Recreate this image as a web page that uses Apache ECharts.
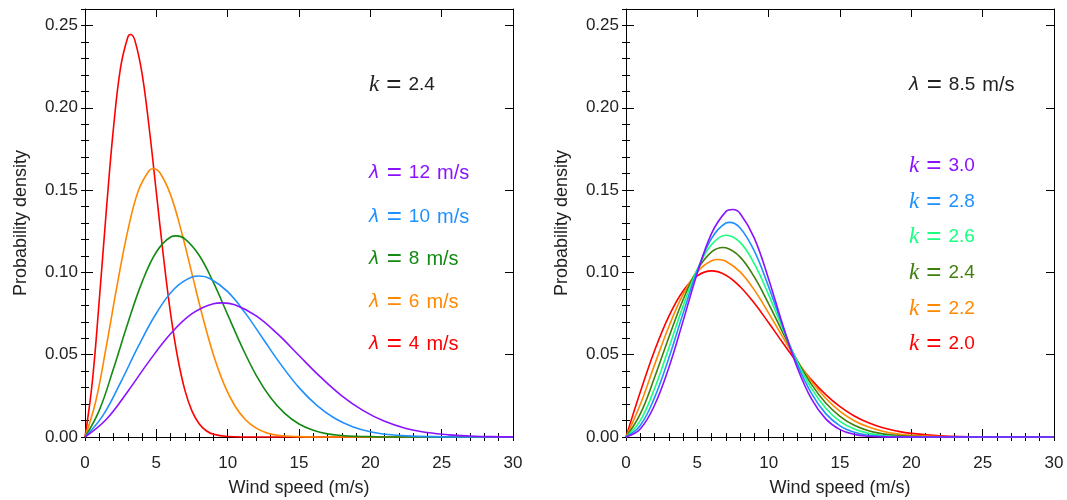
<!DOCTYPE html>
<html><head><meta charset="utf-8">
<script src="https://cdn.jsdelivr.net/npm/echarts@6/dist/echarts.min.js"></script>
<style>html,body{margin:0;padding:0;background:#fff}#c{width:1067px;height:500px}</style>
</head><body><div id="c"></div>
<script>
// ---------- data (wind speed m/s, probability density) ----------
// Left panel: k = 2.4, different scale parameters
const lambda4 = [[0,0],[0.5,0.0324],[1,0.0831],[1.5,0.1382],[2,0.1881],[2.5,0.2248],[3,0.2429],[3.2,0.2445],[3.5,0.2408],[4,0.2207],[4.5,0.1877],[5,0.1486],[5.5,0.1095],[6,0.0750],[6.5,0.0480],[7,0.0285],[7.5,0.0157],[8,0.0081],[8.5,0.0038],[9,0.0017],[10,0.0003],[11,0],[30,0]];
const lambda6 = [[0,0],[0.75,0.0216],[1.5,0.0554],[2.25,0.0921],[3,0.1254],[3.75,0.1499],[4.5,0.1619],[4.8,0.1630],[5.25,0.1605],[6,0.1471],[6.75,0.1251],[7.5,0.0991],[8.25,0.0730],[9,0.0500],[9.75,0.0320],[10.5,0.0190],[11.25,0.0105],[12,0.0054],[12.75,0.0025],[13.5,0.0011],[15,0.0002],[16,0],[30,0]];
const lambda8 = [[0,0],[1,0.0162],[2,0.0416],[3,0.0691],[4,0.0941],[5,0.1124],[6,0.1215],[6.4,0.1222],[7,0.1204],[8,0.1104],[9,0.0939],[10,0.0743],[11,0.0548],[12,0.0375],[13,0.0240],[14,0.0143],[15,0.0079],[16,0.0041],[17,0.0019],[18,0.0009],[19,0.0004],[20,0.0002],[21,0],[30,0]];
const lambda10 = [[0,0],[1.25,0.0130],[2.5,0.0332],[3.75,0.0553],[5,0.0752],[6.25,0.0899],[7.5,0.0972],[8,0.0978],[8.75,0.0963],[10,0.0883],[11.25,0.0751],[12.5,0.0594],[13.75,0.0438],[15,0.0300],[16.25,0.0192],[17.5,0.0114],[18.75,0.0063],[20,0.0032],[21.25,0.0015],[22.5,0.0007],[25,0.0001],[26,0],[30,0]];
const lambda12 = [[0,0],[1.5,0.0108],[3,0.0277],[4.5,0.0461],[6,0.0627],[7.5,0.0749],[9,0.0810],[9.6,0.0815],[10.5,0.0803],[12,0.0736],[13.5,0.0626],[15,0.0495],[16.5,0.0365],[18,0.0250],[19.5,0.0160],[21,0.0095],[22.5,0.0052],[24,0.0027],[25.5,0.0013],[27,0.0006],[28.5,0.0002],[30,0.0001]];

// Right panel: lambda = 8.5 m/s, different shape parameters
const k20 = [[0,0],[1,0.0273],[2,0.0524],[3,0.0733],[4,0.0887],[5,0.0979],[6,0.1009],[7,0.0983],[8,0.0913],[9,0.0812],[10,0.0694],[11,0.0571],[12,0.0453],[13,0.0347],[14,0.0257],[15,0.0184],[16,0.0128],[17,0.0086],[18,0.0056],[19,0.0036],[20,0.0022],[22,0.00075],[25,0.00012],[30,0]];
const k22 = [[0,0],[1,0.0197],[2,0.0438],[3,0.0670],[4,0.0866],[5,0.1003],[6,0.1071],[6.5,0.1078],[7,0.1068],[8,0.1003],[9,0.0892],[10,0.0753],[11,0.0605],[12,0.0463],[13,0.0338],[14,0.0235],[15,0.0156],[16,0.0099],[17,0.0060],[18,0.0035],[19,0.0019],[20,0.0010],[22,0.00025],[25,0.00002],[30,0]];
const k24 = [[0,0],[1,0.0140],[2,0.0361],[3,0.0605],[4,0.0834],[5,0.1015],[6,0.1124],[6.8,0.1151],[7,0.1149],[8,0.1093],[9,0.0971],[10,0.0809],[11,0.0633],[12,0.0464],[13,0.0320],[14,0.0207],[15,0.0126],[16,0.0071],[17,0.0038],[18,0.0019],[19,0.0009],[20,0.0004],[22,0.00005],[25,0],[30,0]];
const k26 = [[0,0],[1,0.0099],[2,0.0295],[3,0.0541],[4,0.0795],[5,0.1018],[6,0.1169],[7,0.1226],[8,0.1182],[9,0.1051],[10,0.0863],[11,0.0654],[12,0.0458],[13,0.0295],[14,0.0175],[15,0.0095],[16,0.0048],[17,0.0022],[18,0.0009],[19,0.0003],[20,0.0001],[22,0],[30,0]];
const k28 = [[0,0],[1,0.0070],[2,0.0239],[3,0.0479],[4,0.0751],[5,0.1011],[6,0.1207],[7,0.1300],[7.25,0.1304],[8,0.1270],[9,0.1129],[10,0.0912],[11,0.0669],[12,0.0443],[13,0.0265],[14,0.0142],[15,0.0068],[16,0.0029],[17,0.0011],[18,0.0004],[19,0.0001],[20,0],[30,0]];
const k30 = [[0,0],[1,0.0049],[2,0.0193],[3,0.0421],[4,0.0704],[5,0.0996],[6,0.1237],[7,0.1369],[7.5,0.1382],[8,0.1358],[9,0.1207],[10,0.0959],[11,0.0677],[12,0.0422],[13,0.0231],[14,0.0110],[15,0.0045],[16,0.0016],[17,0.0005],[18,0.0001],[19,0],[30,0]];

// labels
const leftNames = ['λ = 4 m/s','λ = 6 m/s','λ = 8 m/s','λ = 10 m/s','λ = 12 m/s'];
const rightNames = ['k = 2.0','k = 2.2','k = 2.4','k = 2.6','k = 2.8','k = 3.0'];
const leftTitle = 'k = 2.4';
const rightTitle = 'λ = 8.5 m/s';
const xName = 'Wind speed (m/s)';
const yName = 'Probability density';
const xRange = [0, 30];
const yRange = [0, 0.26];

// ---------- styling ----------
const FONT = "'Liberation Sans', Arial, Helvetica, sans-serif";
const TXT = '#222';
const leftColors = ['#ff0000','#ff8800','#138a13','#1e90ff','#8a12ff'];
const rightColors = ['#ff0000','#ff8800','#3f7f0c','#1aff80','#1e90ff','#8a12ff'];
const leftData = [lambda4, lambda6, lambda8, lambda10, lambda12];
const rightData = [k20, k22, k24, k26, k28, k30];

const grids = [
  {left: 85, top: 9, width: 428, height: 428, containLabel: false, outerBoundsMode: 'none'},
  {left: 626, top: 9, width: 428, height: 428, containLabel: false, outerBoundsMode: 'none'}
];

const tickStyle = {color: '#000', width: 1};
function xAxes(g) {
  const base = {gridIndex: g, type: 'value', min: xRange[0], max: xRange[1], splitLine: {show: false}};
  return [
    Object.assign({}, base, {position: 'bottom', interval: 5,
      axisLine: {show: true, onZero: false, lineStyle: tickStyle},
      axisTick: {show: true, inside: true, length: 8, lineStyle: tickStyle},
      axisLabel: {show: true, margin: 18, fontSize: 17, color: TXT, fontFamily: FONT},
      name: xName, nameLocation: 'middle', nameGap: 42,
      nameTextStyle: {fontSize: 18, color: TXT, fontFamily: FONT}}),
    Object.assign({}, base, {position: 'bottom', interval: 1,
      axisLine: {show: false}, axisLabel: {show: false},
      axisTick: {show: true, inside: true, length: 4, lineStyle: tickStyle}}),
    Object.assign({}, base, {position: 'top', interval: 5,
      axisLine: {show: true, onZero: false, lineStyle: tickStyle},
      axisTick: {show: true, inside: true, length: 8, lineStyle: tickStyle},
      axisLabel: {show: false}}),
    Object.assign({}, base, {position: 'top', interval: 1,
      axisLine: {show: false}, axisLabel: {show: false},
      axisTick: {show: true, inside: true, length: 4, lineStyle: tickStyle}})
  ];
}
function yAxes(g) {
  const base = {gridIndex: g, type: 'value', min: yRange[0], max: yRange[1], splitLine: {show: false}};
  return [
    Object.assign({}, base, {position: 'left', interval: 0.05,
      axisLine: {show: true, onZero: false, lineStyle: tickStyle},
      axisTick: {show: true, inside: true, length: 8, lineStyle: tickStyle},
      axisLabel: {show: true, margin: 7, fontSize: 17, color: TXT, fontFamily: FONT, showMaxLabel: false,
        formatter: v => v.toFixed(2)},
      name: yName, nameLocation: 'middle', nameGap: 55,
      nameTextStyle: {fontSize: 18, color: TXT, fontFamily: FONT}}),
    Object.assign({}, base, {position: 'left', interval: 0.01,
      axisLine: {show: false}, axisLabel: {show: false},
      axisTick: {show: true, inside: true, length: 4, lineStyle: tickStyle}}),
    Object.assign({}, base, {position: 'right', interval: 0.05,
      axisLine: {show: true, onZero: false, lineStyle: tickStyle},
      axisTick: {show: true, inside: true, length: 8, lineStyle: tickStyle},
      axisLabel: {show: false}}),
    Object.assign({}, base, {position: 'right', interval: 0.01,
      axisLine: {show: false}, axisLabel: {show: false},
      axisTick: {show: true, inside: true, length: 4, lineStyle: tickStyle}})
  ];
}

const series = [];
leftData.forEach((d, i) => series.push({
  name: leftNames[i], type: 'line', xAxisIndex: 0, yAxisIndex: 0, data: d,
  showSymbol: false, smooth: 0.4, clip: false, z: 3 + i,
  lineStyle: {color: leftColors[i], width: 1.6}
}));
rightData.forEach((d, i) => series.push({
  name: rightNames[i], type: 'line', xAxisIndex: 4, yAxisIndex: 4, data: d,
  showSymbol: false, smooth: 0.4, clip: false, z: 3 + i,
  lineStyle: {color: rightColors[i], width: 1.6}
}));

// rich-text helpers: italic math symbol, wide "=", value, unit
function mathLabel(str) {
  const parts = str.split(' ');        // [sym, '=', value, unit?]
  const sym = parts[0];
  let out = '{' + (sym === 'k' ? 'k' : 'l') + '|' + sym + '}{s| }{eq|=}{s| }{v|' + parts[2] + '}';
  if (parts[3]) out += '{s| }{u|' + parts[3] + '}';
  return out;
}
function textEl(str, x, y, color) {
  const rich = {
    k: {fill: color, fontFamily: "'Liberation Serif', 'Times New Roman', serif", fontStyle: 'italic', fontSize: 23},
    l: {fill: color, fontFamily: "'DejaVu Sans', 'Liberation Sans', sans-serif", fontStyle: 'italic', fontSize: 18},
    s: {fill: color, fontFamily: FONT, fontSize: 19, width: 7},
    eq: {fill: color, fontFamily: FONT, fontSize: 26},
    v: {fill: color, fontFamily: FONT, fontSize: 19},
    u: {fill: color, fontFamily: FONT, fontSize: 20}
  };
  return {type: 'text', x: x, y: y, silent: true, z: 100,
    style: {text: mathLabel(str), fill: color, fontSize: 19, fontFamily: FONT,
      align: 'left', verticalAlign: 'middle', rich: rich}};
}

const graphics = [textEl(leftTitle, 369, 85, TXT), textEl(rightTitle, 909, 85, TXT)];
const leftLabelY = [344, 302, 259, 217, 173];
leftNames.forEach((n, i) => graphics.push(textEl(n, 369, leftLabelY[i], leftColors[i])));
const rightLabelY = [344, 309, 273, 237, 202, 166];
rightNames.forEach((n, i) => graphics.push(textEl(n, 909, rightLabelY[i], rightColors[i])));

const chart = echarts.init(document.getElementById('c'), null, {renderer: 'canvas'});
chart.setOption({
  animation: false,
  backgroundColor: '#fff',
  grid: grids,
  xAxis: xAxes(0).concat(xAxes(1)),
  yAxis: yAxes(0).concat(yAxes(1)),
  series: series,
  graphic: graphics
});
</script></body></html>
